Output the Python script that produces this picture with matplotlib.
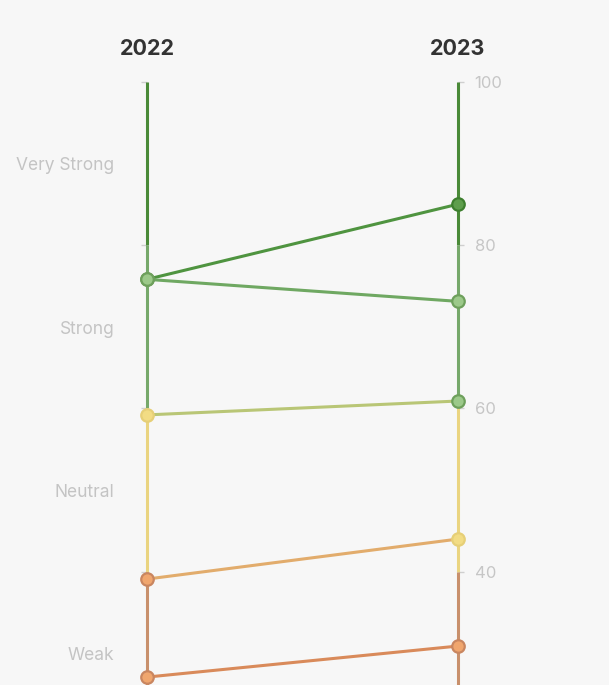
import matplotlib.pyplot as plt

years = ["2022", "2023"]
# each row: (value in 2022, value in 2023)
series_2022 = [75.8, 75.8, 59.2, 39.1, 27.1]
series_2023 = [85.0, 73.1, 60.9, 44.0, 30.9]
line_colors = ["#4f9440", "#6fa862", "#b9c676", "#e2ac6c", "#d98a5a"]
marker_fill_left = ["#9cc98a", "#9cc98a", "#f2dc84", "#f0a66e", "#f0a66e"]
marker_edge_left = ["#6ea05c", "#6ea05c", "#e6cf77", "#c98660", "#c98660"]
marker_fill_right = ["#5e9e4c", "#9cc98a", "#9cc98a", "#f2dc84", "#f0a66e"]
marker_edge_right = ["#3d7f2e", "#6ea05c", "#6ea05c", "#e6cf77", "#c98660"]

bands = ["Very Strong", "Strong", "Neutral", "Weak"]
band_top = [100, 80, 60, 40]
band_bottom = [80, 60, 40, 20]
band_mid = [90, 70, 50, 30]
band_colors = ["#4a8a38", "#76a86a", "#ead480", "#c8906c"]

tick_values = [100, 80, 60, 40]

BG = "#f7f7f7"
FONT = "Inter"

fig = plt.figure(figsize=(6.09, 6.85), dpi=100, facecolor=BG)
ax = fig.add_axes([0, 0, 1, 1], facecolor=BG)
ax.set_xlim(-0.4727, 1.4855)
ax.set_ylim(26.13, 110.0)

for s in ["top", "bottom"]:
    ax.spines[s].set_visible(False)
ax.spines["left"].set_position(("data", 0))
ax.spines["right"].set_position(("data", 1))
ax.spines["left"].set_visible(False)
ax.spines["right"].set_visible(False)
ax.set_xticks([])

ax.set_yticks(tick_values)
ax.set_yticklabels([str(v) for v in tick_values])
ax.yaxis.set_ticks_position("both")
ax.tick_params(axis="y", which="both", direction="out", length=4, width=1,
               color="#cfcfcf", labelleft=False, labelright=True, pad=8,
               labelcolor="#c6c6c6", labelsize=12)
for lab in ax.get_yticklabels():
    lab.set_fontfamily(FONT)

# coloured axis lines, one segment per band
for x in [0, 1]:
    for top, bot, c in zip(band_top, band_bottom, band_colors):
        ax.plot([x, x], [bot, top], color=c, lw=2.2, solid_capstyle="butt", zorder=2)

# slope lines
for v0, v1, c in zip(series_2022, series_2023, line_colors):
    ax.plot([0, 1], [v0, v1], color=c, lw=2.2, zorder=3)

for i in range(len(series_2022)):
    ax.plot(0, series_2022[i], "o", ms=9, mfc=marker_fill_left[i],
            mec=marker_edge_left[i], mew=1.6, zorder=4)
    ax.plot(1, series_2023[i], "o", ms=9, mfc=marker_fill_right[i],
            mec=marker_edge_right[i], mew=1.6, zorder=4)

for i, yr in enumerate(years):
    ax.text(i, 104.0, yr, ha="center", va="center", fontsize=15.5,
            fontweight="bold", color="#333333", family=FONT)

for name, mid in zip(bands, band_mid):
    ax.text(-0.105, mid - 0.3, name, ha="right", va="center", fontsize=12.5,
            color="#c4c4c4", family=FONT)

fig.savefig("out.png", dpi=100, facecolor=BG)
